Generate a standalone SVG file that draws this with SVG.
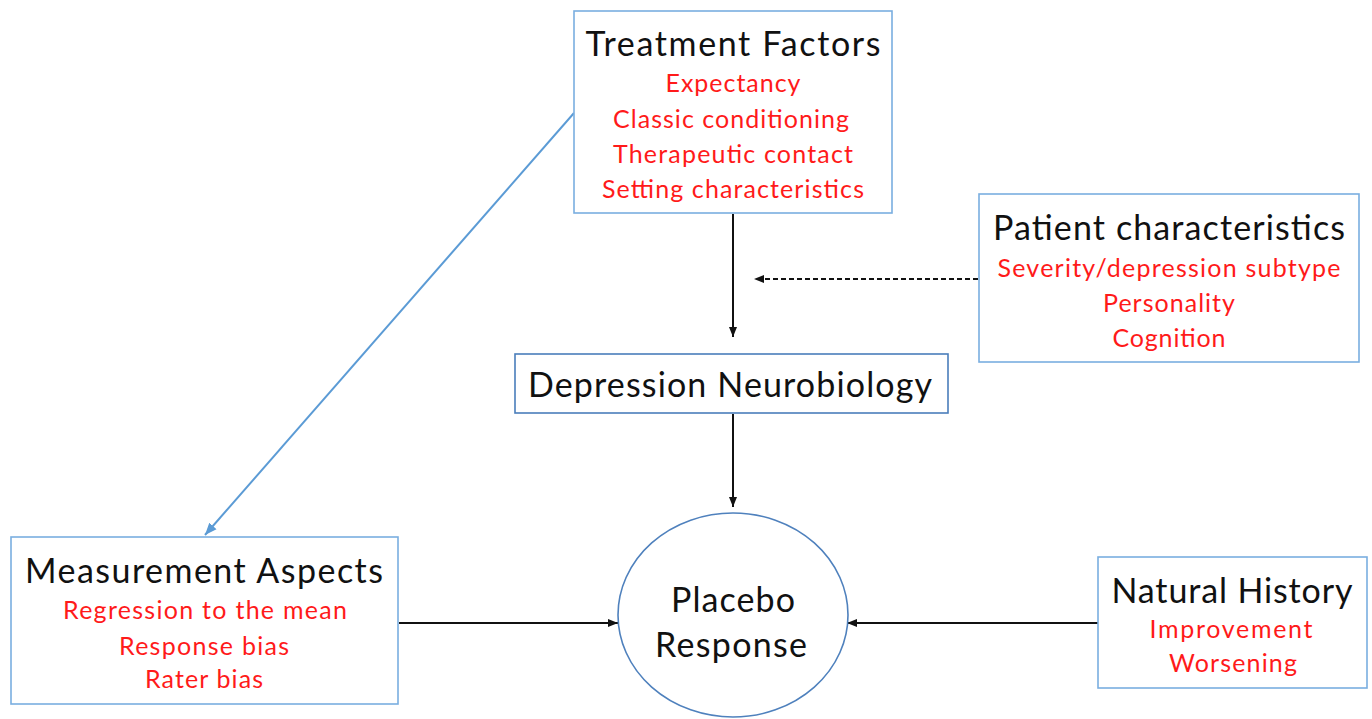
<svg xmlns="http://www.w3.org/2000/svg" width="1372" height="719" viewBox="0 0 1372 719">
<style>
.box{fill:#fff;stroke:#7aaee0;stroke-width:1.6}
.title{font-family:Lato,"Open Sans",sans-serif;font-size:34px;fill:#111;text-anchor:middle}
.item{font-family:Lato,"Open Sans",sans-serif;font-size:25px;fill:#ff1a1a;text-anchor:middle}
.conn{stroke:#111;stroke-width:2;fill:none}
</style>
<defs>
<marker id="ah" viewBox="0 0 10 10" refX="10" refY="5" markerWidth="5" markerHeight="5" orient="auto" markerUnits="strokeWidth"><path d="M0,1 L10,5 L0,9 Z" fill="#111"/></marker>
<marker id="ahb" viewBox="0 0 10 10" refX="10" refY="5" markerWidth="6" markerHeight="6" orient="auto" markerUnits="strokeWidth"><path d="M0,1 L10,5 L0,9 Z" fill="#5b9bd5"/></marker>
</defs>
<rect width="1372" height="719" fill="#fff"/>
<g id="connectors">
<line class="conn" x1="733" y1="214" x2="733" y2="337" marker-end="url(#ah)"/>
<line class="conn" x1="978" y1="279" x2="754" y2="279" stroke-width="1.5" stroke-dasharray="5,3" marker-end="url(#ah)"/>
<line class="conn" x1="733" y1="414" x2="733" y2="507" marker-end="url(#ah)"/>
<line class="conn" x1="399" y1="623" x2="618" y2="623" marker-end="url(#ah)"/>
<line class="conn" x1="1098" y1="623" x2="847" y2="623" marker-end="url(#ah)"/>
<line x1="574" y1="113" x2="205" y2="535" stroke="#5b9bd5" stroke-width="2" marker-end="url(#ahb)"/>
</g>
<g id="treatment">
<rect class="box" x="574" y="11" width="318" height="202"/>
<text class="title" x="733" y="56" textLength="295">Treatment Factors</text>
<text class="item" x="733" y="92" textLength="135">Expectancy</text>
<text class="item" x="731" y="128" textLength="236">Classic conditioning</text>
<text class="item" x="733" y="163" textLength="240">Therapeutic contact</text>
<text class="item" x="733" y="198" textLength="262">Setting characteristics</text>
</g>
<g id="patient">
<rect class="box" x="979" y="194" width="380" height="168"/>
<text class="title" x="1169" y="240" textLength="352">Patient characteristics</text>
<text class="item" x="1169" y="277" textLength="343">Severity/depression subtype</text>
<text class="item" x="1169" y="312" textLength="132">Personality</text>
<text class="item" x="1169" y="347" textLength="113">Cognition</text>
</g>
<g id="neurobiology">
<rect x="515" y="354" width="433" height="59" fill="#fff" stroke="#4a7ebb" stroke-width="1.6"/>
<text class="title" x="730" y="397" textLength="404">Depression Neurobiology</text>
</g>
<g id="placebo">
<ellipse cx="733" cy="615" rx="115" ry="102" fill="#fff" stroke="#4f81bd" stroke-width="1.6"/>
<text class="title" x="733" y="612" textLength="124">Placebo</text>
<text class="title" x="731" y="657" textLength="152">Response</text>
</g>
<g id="measurement">
<rect class="box" x="11" y="537" width="387" height="167"/>
<text class="title" x="204" y="583" textLength="358">Measurement Aspects</text>
<text class="item" x="205" y="619" textLength="284">Regression to the mean</text>
<text class="item" x="204" y="655" textLength="170">Response bias</text>
<text class="item" x="204" y="688" textLength="118">Rater bias</text>
</g>
<g id="natural">
<rect class="box" x="1098" y="557" width="269" height="131"/>
<text class="title" x="1232" y="603" textLength="241">Natural History</text>
<text class="item" x="1231" y="638" textLength="163">Improvement</text>
<text class="item" x="1233" y="672" textLength="128">Worsening</text>
</g>
</svg>
